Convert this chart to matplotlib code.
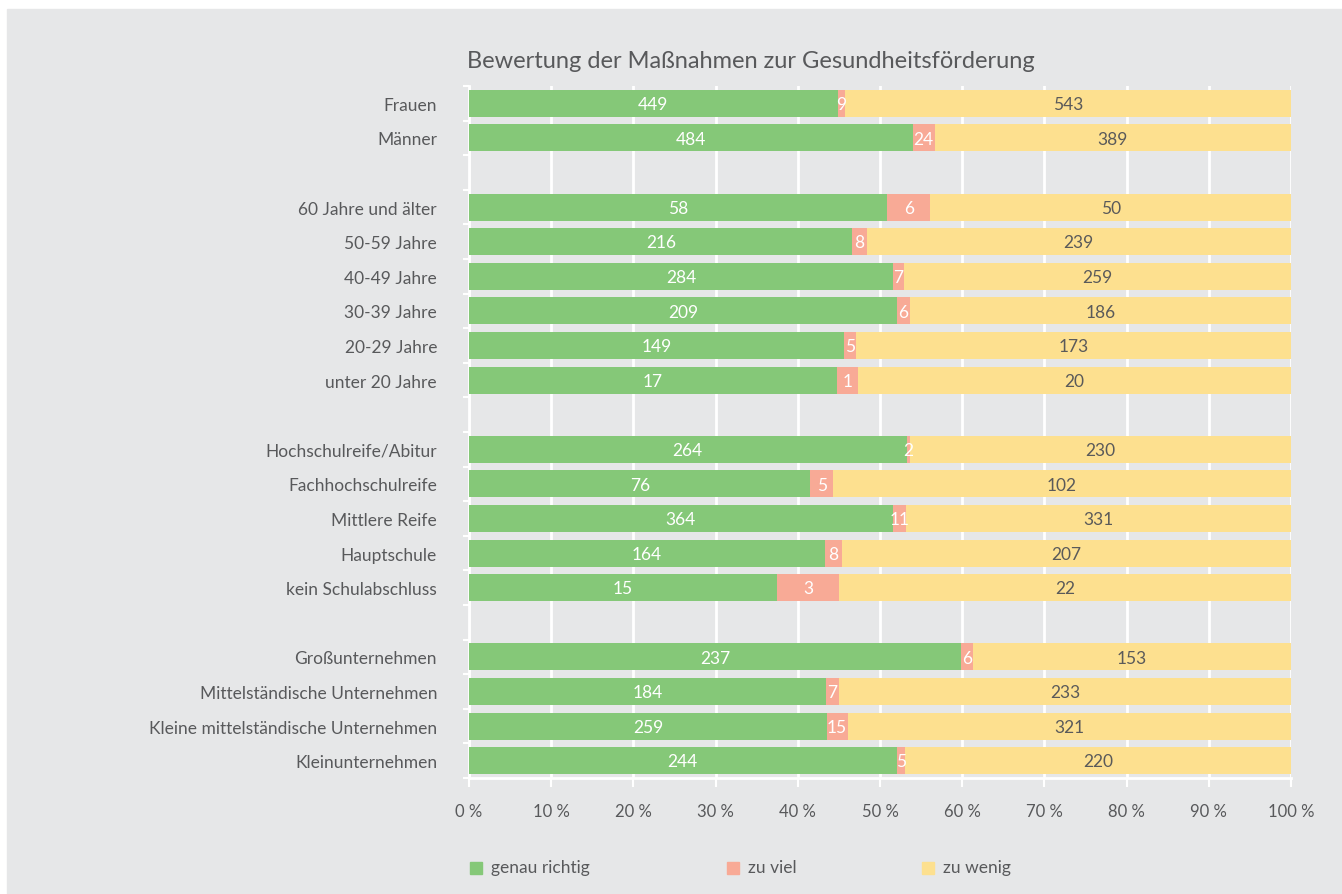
import numpy as np
import matplotlib
matplotlib.use("Agg")
import matplotlib.pyplot as plt
from matplotlib.patches import Rectangle

plt.rcParams['font.family'] = ['Lato', 'DejaVu Sans']

# groups of categories (a blank row is left between groups)
groups = [
    ["Frauen", "Männer"],
    ["60 Jahre und älter", "50-59 Jahre", "40-49 Jahre", "30-39 Jahre",
     "20-29 Jahre", "unter 20 Jahre"],
    ["Hochschulreife/Abitur", "Fachhochschulreife", "Mittlere Reife",
     "Hauptschule", "kein Schulabschluss"],
    ["Großunternehmen", "Mittelständische Unternehmen",
     "Kleine mittelständische Unternehmen", "Kleinunternehmen"],
]
genau_richtig = [449, 484, 58, 216, 284, 209, 149, 17, 264, 76, 364, 164, 15,
                 237, 184, 259, 244]
zu_viel = [9, 24, 6, 8, 7, 6, 5, 1, 2, 5, 11, 8, 3, 6, 7, 15, 5]
zu_wenig = [543, 389, 50, 239, 259, 186, 173, 20, 230, 102, 331, 207, 22,
            153, 233, 321, 220]
series_names = ["genau richtig", "zu viel", "zu wenig"]

colors = ["#85c878", "#f8aa96", "#fde08f"]
text_colors = ["white", "white", "#5a5a5a"]
bg = "#e6e7e8"
txt = "#58595b"

# row positions with one empty row between groups
labels = []
pos = []
row = 0
for g in groups:
    for name in g:
        labels.append(name)
        pos.append(row)
        row += 1
    row += 1
n_rows = row - 1
pos = np.array(pos)

vals = np.array([genau_richtig, zu_viel, zu_wenig], dtype=float)
totals = vals.sum(axis=0)
pct = vals / totals * 100

W, H = 1342, 894
fig = plt.figure(figsize=(W / 100, H / 100), dpi=100, facecolor="white")
fig.patches.append(Rectangle((7 / W, 0), 1, 1 - 9 / H,
                             transform=fig.transFigure, color=bg, zorder=-10))
ax = fig.add_axes([469 / W, 1 - 778 / H, 822 / W, 692 / H])
ax.set_facecolor(bg)

left = np.zeros(len(labels))
for i in range(3):
    ax.barh(pos, pct[i], left=left, height=0.78, color=colors[i], zorder=3)
    for p, l, w, v in zip(pos, left, pct[i], vals[i]):
        ax.text(l + w / 2, p + 0.05, f"{int(v)}", ha="center", va="center",
                color=text_colors[i], fontsize=12.5, zorder=4)
    left += pct[i]

ax.set_xlim(0, 100)
ax.set_ylim(n_rows - 0.5, -0.5)
ax.set_xticks(np.arange(0, 101, 10))
ax.set_xticklabels([f"{t} %" for t in range(0, 101, 10)])
ax.set_yticks(pos + 0.03)
ax.set_yticklabels(labels)
ax.set_yticks(np.arange(-0.5, n_rows, 1), minor=True)
ax.tick_params(axis="y", which="major", length=0, pad=23, labelsize=12.5,
               labelcolor=txt)
ax.tick_params(axis="y", which="minor", length=4.5, width=1.5, color="white")
ax.tick_params(axis="x", length=6.5, width=1.5, color="white", pad=12,
               labelsize=12, labelcolor=txt)
ax.grid(axis="x", color="white", linewidth=2, zorder=1)
for s in ["top", "right"]:
    ax.spines[s].set_visible(False)
for s in ["left", "bottom"]:
    ax.spines[s].set_color("white")
    ax.spines[s].set_linewidth(2)

ax.set_title("Bewertung der Maßnahmen zur Gesundheitsförderung", loc="left",
             fontsize=17, color=txt, pad=13, x=-0.002)

# legend entries placed like the original
legend_x = [470, 727, 922]
legend_y = 1 - 868 / H
for x, c, name in zip(legend_x, colors, series_names):
    fig.patches.append(Rectangle((x / W, legend_y - 6 / H), 12 / W, 12 / H,
                                 transform=fig.transFigure, color=c))
    fig.text((x + 21) / W, legend_y, name, ha="left", va="center",
             fontsize=12.5, color=txt)

fig.savefig("out.png", dpi=100, facecolor=fig.get_facecolor())
